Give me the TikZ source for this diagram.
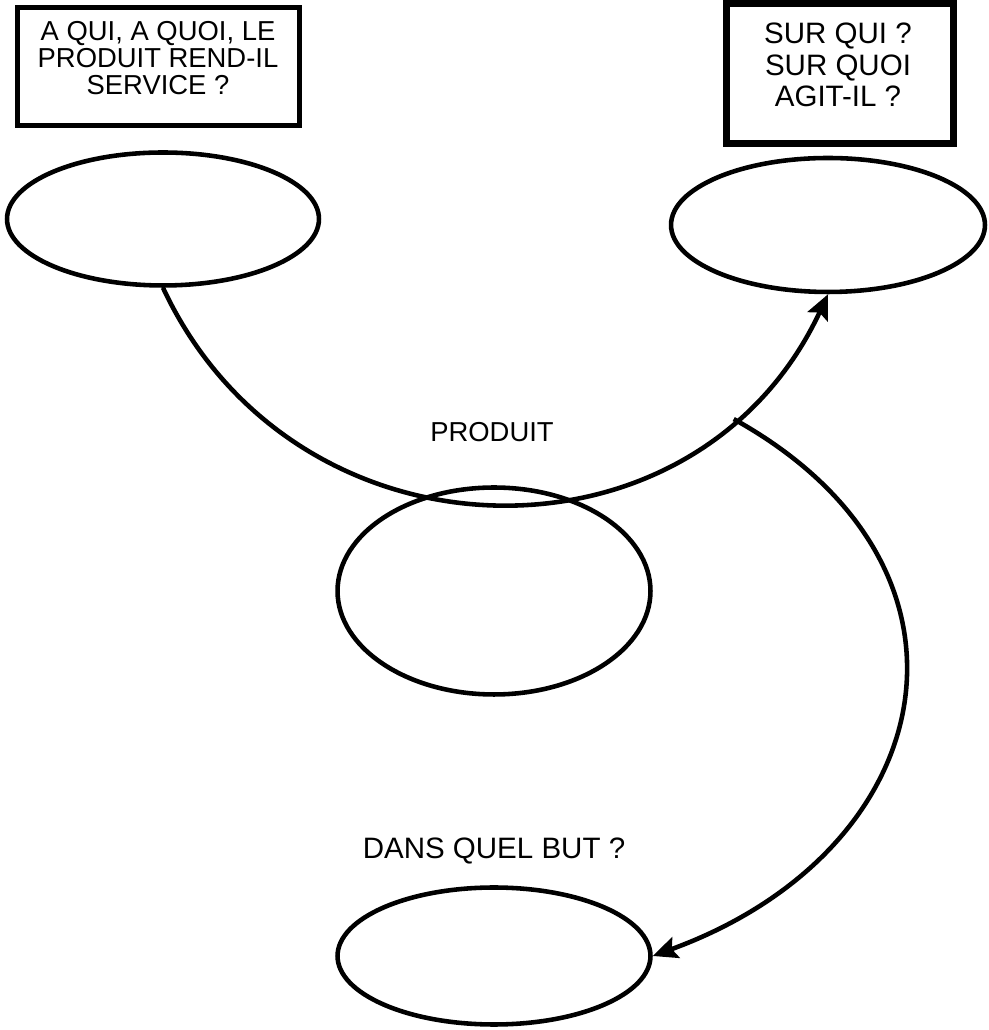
\documentclass[tikz,border=0pt]{standalone}
\usepackage{fontspec}
\setmainfont{Liberation Sans}
\usepackage{tikz}
\usetikzlibrary{shapes.geometric,arrows.meta}

\begin{document}
\begin{tikzpicture}
  [x=0.02cm,y=0.02cm,line width=2.6pt,
   >={Stealth[length=14pt,width=12.5pt,inset=2.5pt]},
   bulle/.style={ellipse,draw,inner sep=0pt,minimum width=6.26cm},
   cadre/.style={rectangle,draw,inner sep=0pt},
   texte/.style={align=center,inner sep=0pt}]
  \useasboundingbox (0,0) rectangle (989,1030);
  % questions en haut
  \node[cadre,minimum width=5.64cm,minimum height=2.37cm] (c1) at (158.5,963.5) {};
  \node[texte,font=\fontsize{15.6}{15.2}\selectfont] (q1) at (158,972)
    {A QUI, A QUOI, LE\\PRODUIT REND-IL\\SERVICE ?};
  \node[cadre,line width=4pt,minimum width=4.54cm,minimum height=2.8cm] (c2) at (840,956.5) {};
  \node[texte,font=\fontsize{16.8}{18}\selectfont] (q2) at (838,965)
    {SUR QUI ?\\SUR QUOI\\AGIT-IL ?};
  % bulles
  \node[bulle,minimum width=6.24cm,minimum height=2.66cm] (e1) at (163,811) {};
  \node[bulle,minimum width=6.28cm,minimum height=2.68cm] (e2) at (828,805) {};
  \node[bulle,minimum height=4.14cm] (e3) at (494,439) {};
  \node[bulle,minimum height=2.74cm] (e4) at (494,74) {};
  \node[texte,font=\fontsize{15.6}{18}\selectfont] (produit) at (492,598) {PRODUIT};
  \node[texte,font=\fontsize{16.8}{18}\selectfont] (but) at (494,179) {DANS QUEL BUT ?};
  % fleches
  \draw[->] (e1.south) to[out=-65,in=-115,looseness=1.2] coordinate[pos=0.82] (br) (e2.south);
  \draw[->] (br) to[out=-29,in=20,looseness=1.45] (e4.east);
\end{tikzpicture}
\end{document}
